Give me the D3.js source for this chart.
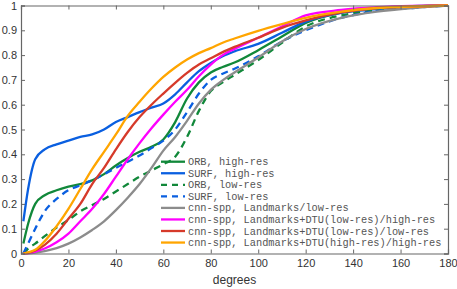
<!DOCTYPE html>
<html><head><meta charset="utf-8">
<script src="https://cdn.jsdelivr.net/npm/d3@7"></script>
<style>body{margin:0;background:#fff;}svg{display:block;}</style>
</head><body>
<svg id="c" width="457" height="289"></svg>
<script>
const degrees = [1,3,6,10,15,20,25,30,35,40,45,50,55,60,65,70,75,80,85,90,100,110,120,135,150,165,180];
const orbHigh  = [0.04,0.12,0.2,0.235,0.255,0.27,0.28,0.295,0.32,0.355,0.385,0.41,0.43,0.46,0.53,0.625,0.69,0.73,0.752,0.77,0.82,0.875,0.93,0.972,0.99,0.997,1.0];
const surfHigh = [0.13,0.26,0.38,0.42,0.44,0.455,0.47,0.48,0.5,0.53,0.55,0.57,0.588,0.605,0.642,0.69,0.735,0.768,0.795,0.815,0.845,0.89,0.935,0.97,0.985,0.995,1.0];
const orbLow   = [0.0,0.02,0.04,0.07,0.105,0.135,0.17,0.195,0.22,0.25,0.28,0.31,0.335,0.36,0.39,0.47,0.575,0.655,0.69,0.72,0.78,0.85,0.915,0.96,0.98,0.993,1.0];
const surfLow  = [0.0,0.04,0.1,0.17,0.22,0.255,0.275,0.295,0.32,0.345,0.37,0.395,0.425,0.455,0.5,0.57,0.645,0.7,0.725,0.745,0.795,0.855,0.9,0.95,0.978,0.99,1.0];
const cnnLm    = [0,0.001,0.004,0.01,0.022,0.04,0.065,0.095,0.13,0.175,0.225,0.28,0.345,0.415,0.47,0.535,0.605,0.66,0.698,0.73,0.79,0.855,0.905,0.95,0.975,0.99,1.0];
const cnnDtuLH = [0,0.002,0.008,0.02,0.045,0.08,0.13,0.18,0.24,0.31,0.38,0.445,0.505,0.56,0.612,0.66,0.715,0.762,0.8,0.825,0.87,0.915,0.96,0.982,0.993,0.998,1.0];
const cnnDtuLL = [0,0.003,0.012,0.035,0.08,0.14,0.2,0.28,0.345,0.42,0.49,0.55,0.6,0.645,0.688,0.728,0.762,0.787,0.812,0.833,0.87,0.91,0.94,0.972,0.99,0.996,1.0];
const cnnDtuHH = [0,0.005,0.015,0.05,0.11,0.18,0.26,0.34,0.41,0.48,0.555,0.612,0.665,0.712,0.75,0.782,0.808,0.828,0.85,0.867,0.898,0.925,0.95,0.975,0.99,0.996,1.0];
const seriesNames = ["ORB, high-res","SURF, high-res","ORB, low-res","SURF, low-res","cnn-spp, Landmarks/low-res","cnn-spp, Landmarks+DTU(low-res)/high-res","cnn-spp, Landmarks+DTU(low-res)/low-res","cnn-spp, Landmarks+DTU(high-res)/high-res"];
const seriesValues = [orbHigh,surfHigh,orbLow,surfLow,cnnLm,cnnDtuLH,cnnDtuLL,cnnDtuHH];
const seriesColors = ["#11883a","#0a5fe0","#11883a","#0a5fe0","#8c8c8c","#ff00ff","#d63a2a","#ffa500"];
const seriesDashed = [false,false,true,true,false,false,false,false];
const xTicks = [0,20,40,60,80,100,120,140,160,180];
const yTicks = [0,0.1,0.2,0.3,0.4,0.5,0.6,0.7,0.8,0.9,1];
const xLabel = "degrees";

const svg = d3.select("#c");
const L=21,R=448,T=5.5,B=253.5;
const x = d3.scaleLinear().domain([0,180]).range([L,R]);
const y = d3.scaleLinear().domain([0,1]).range([B,T]);
const axisCol="#666", txtCol="#333";

const g = svg.append("g");
const line = d3.line().x(d=>x(d[0])).y(d=>y(d[1])).curve(d3.curveMonotoneX);
seriesValues.forEach((vals,i)=>{
  g.append("path").datum(degrees.map((d,j)=>[d,vals[j]]))
   .attr("d",line).attr("fill","none").attr("stroke",seriesColors[i])
   .attr("stroke-width",2.3)
   .attr("stroke-dasharray",seriesDashed[i]?"7,5":null);
});

const fmt = d=> d===0?"0":(d===1?"1":d3.format(".1f")(d));
const ax = svg.append("g").attr("transform",`translate(0,${B})`)
  .call(d3.axisBottom(x).tickValues(xTicks).tickSize(-4).tickPadding(6));
const ay = svg.append("g").attr("transform",`translate(${L},0)`)
  .call(d3.axisLeft(y).tickValues(yTicks).tickFormat(fmt).tickSize(-4).tickPadding(4));
const at = svg.append("g").attr("transform",`translate(0,${T})`)
  .call(d3.axisTop(x).tickValues(xTicks).tickSize(-4).tickFormat(""));
const ar = svg.append("g").attr("transform",`translate(${R},0)`)
  .call(d3.axisRight(y).tickValues(yTicks).tickSize(-4).tickFormat(""));
[ax,ay,at,ar].forEach(a=>{
  a.select(".domain").attr("stroke",axisCol).attr("stroke-width",1.2);
  a.selectAll(".tick line").attr("stroke",axisCol);
  a.selectAll("text").attr("fill",txtCol).style("font-family","'Liberation Sans',Arial,sans-serif").style("font-size","11px");
});
svg.append("text").attr("x",x(90)).attr("y",284).attr("text-anchor","middle")
  .attr("fill",txtCol).style("font-family","'Liberation Sans',Arial,sans-serif").style("font-size","12px").text(xLabel);

const lg = svg.append("g");
seriesNames.forEach((n,i)=>{
  const yy = 161.7 + i*11.55;
  lg.append("line").attr("x1",161).attr("x2",185).attr("y1",yy).attr("y2",yy)
    .attr("stroke",seriesColors[i]).attr("stroke-width",2.3)
    .attr("stroke-dasharray",seriesDashed[i]?"6,5":null);
  lg.append("text").attr("x",188).attr("y",yy+3.5).text(n)
    .attr("fill","#555").style("font-family","'Liberation Mono','DejaVu Sans Mono',monospace").style("font-size","10.3px");
});
</script>
</body></html>
